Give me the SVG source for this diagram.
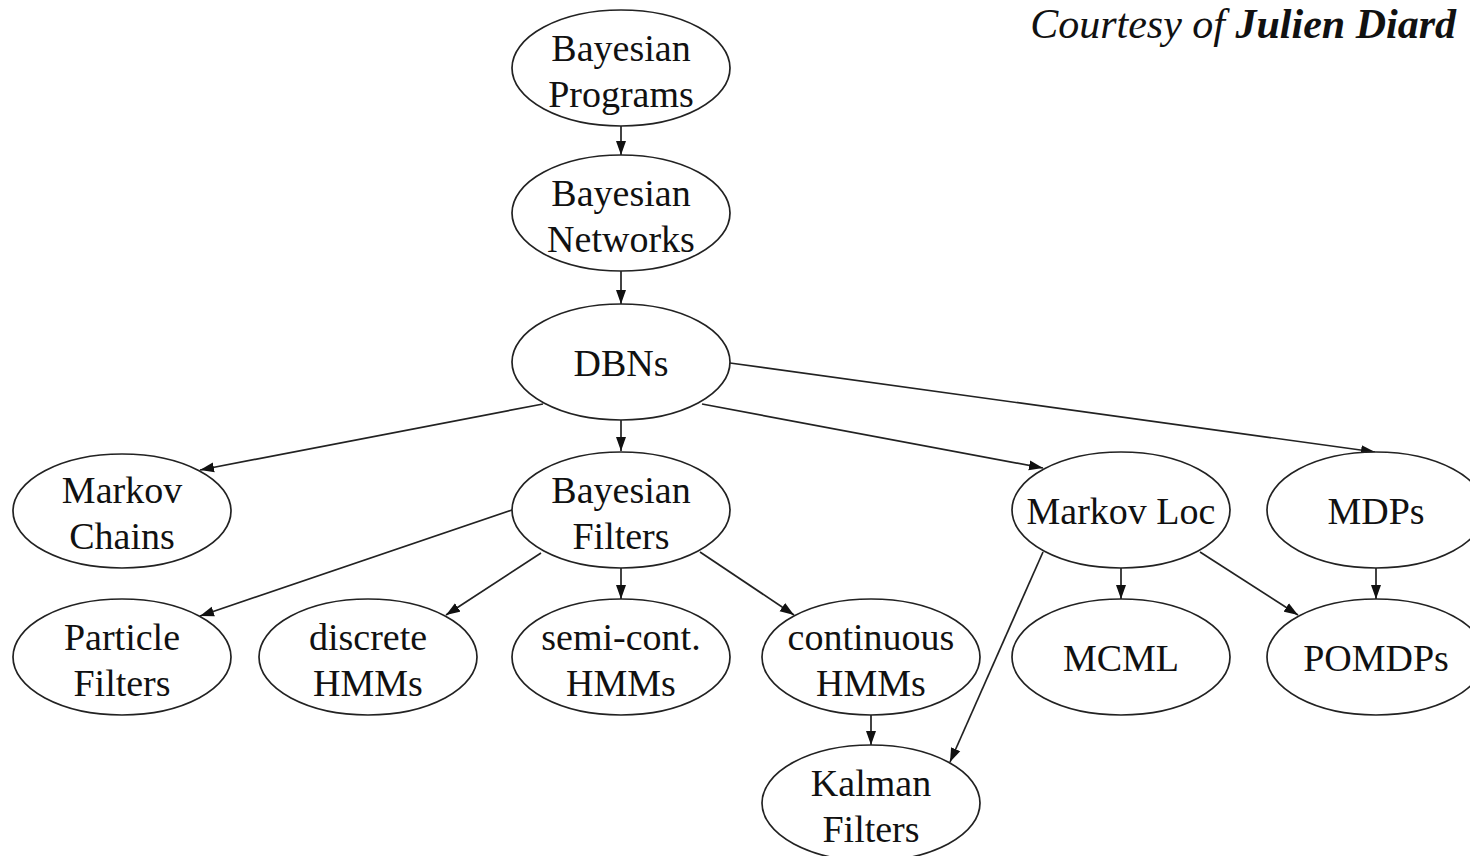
<svg xmlns="http://www.w3.org/2000/svg" width="1470" height="856" viewBox="0 0 1470 856">
<style>
.n ellipse{fill:#fff;stroke:#222;stroke-width:1.7}
.n text{font-family:"Liberation Serif","Times New Roman",serif;font-size:38px;fill:#111;text-anchor:middle}
.e line{stroke:#222;stroke-width:1.7;marker-end:url(#ah)}
.c{font-family:"Liberation Serif","Times New Roman",serif;font-size:42px;font-style:italic;fill:#111;text-anchor:end}
</style>
<defs>
<marker id="ah" markerUnits="userSpaceOnUse" markerWidth="15" markerHeight="11" viewBox="0 0 15 11" refX="14" refY="5.5" orient="auto">
<path d="M0,0.5 L14,5.5 L0,10.5 Z" fill="#111"/>
</marker>
</defs>
<rect width="1470" height="856" fill="#fff"/>
<text class="c" x="1456" y="38">Courtesy of <tspan font-weight="bold">Julien Diard</tspan></text>
<g class="e" id="edges">
<line x1="621" y1="126" x2="621" y2="155"/>
<line x1="621" y1="271" x2="621" y2="304"/>
<line x1="543" y1="404" x2="200" y2="470"/>
<line x1="621" y1="420" x2="621" y2="451"/>
<line x1="702" y1="404" x2="1043" y2="468"/>
<line x1="730" y1="363" x2="1375" y2="452"/>
<line x1="512" y1="510" x2="200" y2="616"/>
<line x1="541" y1="553" x2="446" y2="615"/>
<line x1="621" y1="568" x2="621" y2="599"/>
<line x1="700" y1="552" x2="794" y2="615"/>
<line x1="1121" y1="568" x2="1121" y2="599"/>
<line x1="1200" y1="552" x2="1298" y2="615"/>
<line x1="1043" y1="552" x2="950" y2="762"/>
<line x1="1376" y1="568" x2="1376" y2="599"/>
<line x1="871" y1="715" x2="871" y2="745"/>
</g>
<g class="n" id="bayesian-programs"><ellipse cx="621" cy="68" rx="109" ry="58"/><text x="621" y="61">Bayesian</text><text x="621" y="107">Programs</text></g>
<g class="n" id="bayesian-networks"><ellipse cx="621" cy="213" rx="109" ry="58"/><text x="621" y="206">Bayesian</text><text x="621" y="252">Networks</text></g>
<g class="n" id="dbns"><ellipse cx="621" cy="362" rx="109" ry="58"/><text x="621" y="376">DBNs</text></g>
<g class="n" id="markov-chains"><ellipse cx="122" cy="511" rx="109" ry="57"/><text x="122" y="503">Markov</text><text x="122" y="549">Chains</text></g>
<g class="n" id="bayesian-filters"><ellipse cx="621" cy="510" rx="109" ry="58"/><text x="621" y="503">Bayesian</text><text x="621" y="549">Filters</text></g>
<g class="n" id="markov-loc"><ellipse cx="1121" cy="510" rx="109" ry="58"/><text x="1121" y="524">Markov Loc</text></g>
<g class="n" id="mdps"><ellipse cx="1376" cy="510" rx="109" ry="58"/><text x="1376" y="524">MDPs</text></g>
<g class="n" id="particle-filters"><ellipse cx="122" cy="657" rx="109" ry="58"/><text x="122" y="650">Particle</text><text x="122" y="696">Filters</text></g>
<g class="n" id="discrete-hmms"><ellipse cx="368" cy="657" rx="109" ry="58"/><text x="368" y="650">discrete</text><text x="368" y="696">HMMs</text></g>
<g class="n" id="semi-cont-hmms"><ellipse cx="621" cy="657" rx="109" ry="58"/><text x="621" y="650">semi-cont.</text><text x="621" y="696">HMMs</text></g>
<g class="n" id="continuous-hmms"><ellipse cx="871" cy="657" rx="109" ry="58"/><text x="871" y="650">continuous</text><text x="871" y="696">HMMs</text></g>
<g class="n" id="mcml"><ellipse cx="1121" cy="657" rx="109" ry="58"/><text x="1121" y="671">MCML</text></g>
<g class="n" id="pomdps"><ellipse cx="1376" cy="657" rx="109" ry="58"/><text x="1376" y="671">POMDPs</text></g>
<g class="n" id="kalman-filters"><ellipse cx="871" cy="803" rx="109" ry="58"/><text x="871" y="796">Kalman</text><text x="871" y="842">Filters</text></g>
</svg>
